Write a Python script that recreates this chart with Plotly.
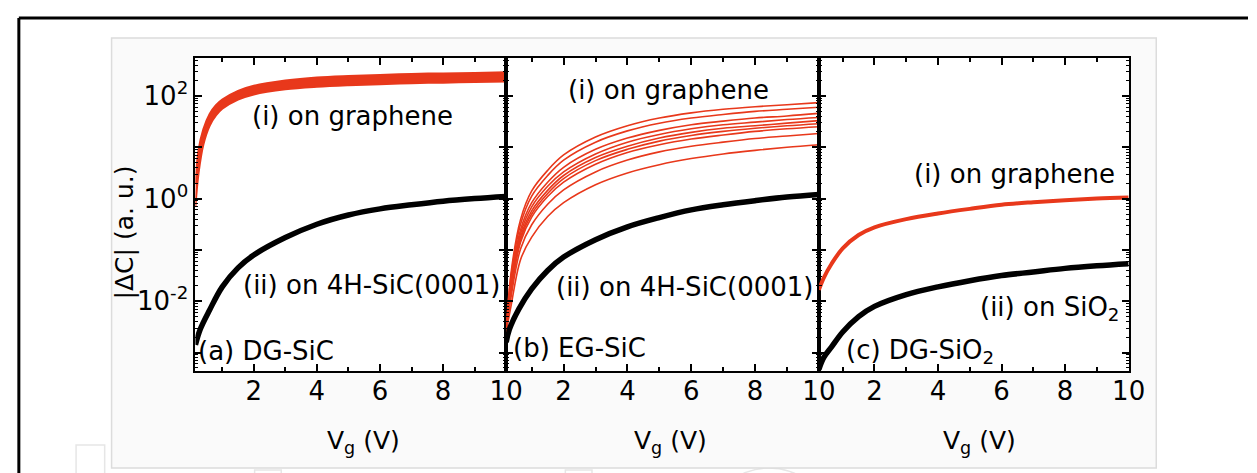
import plotly.graph_objects as go

W, H = 1257, 473

# ---------------- data (log10 of |ΔC|) ----------------
# Panel (a) DG-SiC
a_red_v = [0.15, 0.25, 0.4, 0.6, 0.8, 1.0, 1.5, 2, 3, 4, 5, 6, 7, 8, 9, 10]
a_red_low = [-0.15, 0.5, 1.05, 1.42, 1.62, 1.75, 1.93, 2.03, 2.13, 2.18, 2.21, 2.23, 2.25, 2.26, 2.27, 2.28]
a_red_high = [0.3, 0.95, 1.35, 1.65, 1.82, 1.93, 2.1, 2.2, 2.3, 2.36, 2.39, 2.41, 2.43, 2.44, 2.45, 2.46]
a_blk_v = [0.15, 0.3, 0.6, 1.0, 1.5, 2, 3, 4, 5, 6, 7, 8, 9, 10]
a_blk = [-2.85, -2.55, -2.17, -1.72, -1.35, -1.1, -0.76, -0.5, -0.32, -0.2, -0.12, -0.05, 0.0, 0.04]

# Panel (b) EG-SiC
b_red_v = [0.2, 0.35, 0.65, 1.0, 1.5, 2, 3, 4, 5, 6, 7, 8, 9, 10]
b_red_1 = [-2.6, -1.46, -0.41, 0.15, 0.55, 0.85, 1.2, 1.42, 1.57, 1.67, 1.74, 1.79, 1.83, 1.87]
b_red_2 = [-2.6, -1.53, -0.50, 0.05, 0.45, 0.75, 1.10, 1.32, 1.47, 1.57, 1.64, 1.70, 1.74, 1.78]
b_red_3 = [-2.6, -1.63, -0.61, -0.08, 0.32, 0.61, 0.96, 1.18, 1.33, 1.44, 1.51, 1.57, 1.61, 1.66]
b_red_4 = [-2.6, -1.68, -0.68, -0.16, 0.24, 0.52, 0.87, 1.10, 1.25, 1.36, 1.44, 1.49, 1.54, 1.58]
b_red_5 = [-2.6, -1.74, -0.75, -0.24, 0.16, 0.45, 0.80, 1.02, 1.18, 1.29, 1.37, 1.42, 1.47, 1.52]
b_red_6 = [-2.6, -1.78, -0.80, -0.30, 0.10, 0.39, 0.74, 0.96, 1.12, 1.23, 1.31, 1.37, 1.42, 1.46]
b_red_7 = [-2.6, -1.82, -0.85, -0.36, 0.04, 0.32, 0.67, 0.90, 1.05, 1.16, 1.24, 1.31, 1.36, 1.40]
b_red_8 = [-2.6, -1.93, -0.98, -0.51, -0.11, 0.17, 0.52, 0.75, 0.91, 1.02, 1.10, 1.17, 1.22, 1.27]
b_red_9 = [-2.6, -2.10, -1.19, -0.75, -0.35, -0.08, 0.27, 0.50, 0.66, 0.78, 0.87, 0.94, 1.00, 1.05]
b_blk_v = [0.2, 0.3, 0.6, 1.0, 1.5, 2, 3, 4, 5, 6, 7, 8, 9, 10]
b_blk = [-2.8, -2.55, -2.15, -1.76, -1.4, -1.14, -0.8, -0.55, -0.37, -0.22, -0.12, -0.04, 0.03, 0.08]

# Panel (c) DG-SiO2
c_red_v = [0.25, 0.4, 0.65, 1.0, 1.5, 2, 3, 4, 5, 6, 7, 8, 9, 10]
c_red = [-1.78, -1.55, -1.27, -0.97, -0.71, -0.56, -0.40, -0.29, -0.20, -0.12, -0.07, -0.03, 0.0, 0.02]
c_blk_v = [0.25, 0.4, 0.65, 1.0, 1.5, 2, 3, 4, 5, 6, 7, 8, 9, 10]
c_blk = [-3.33, -3.1, -2.89, -2.6, -2.3, -2.1, -1.87, -1.72, -1.6, -1.5, -1.43, -1.36, -1.31, -1.27]

x_ticks = [2, 4, 6, 8, 10]
x_ticks_minor = [1, 3, 5, 7, 9]
y_ticks = [1e-3, 1e-2, 1e-1, 1, 10, 100]
y_ticktext = ["", "10<sup>-2</sup>", "", "10<sup>0</sup>", "", "10<sup>2</sup>"]
y_minor = [m * 10.0 ** d for d in range(-4, 3) for m in range(2, 10)]

RED = "#e8381b"
BLACK = "#000000"
FONT = "DejaVu Sans"


def lin(v):
    return [10.0 ** t for t in v]


def px(x):
    return x / W


def py(y):
    return 1 - y / H


fig = go.Figure()

# panel a
fig.add_trace(go.Scatter(x=a_red_v, y=lin(a_red_low), mode="lines", line=dict(color=RED, width=2, shape="spline"),
                         xaxis="x", yaxis="y", showlegend=False))
fig.add_trace(go.Scatter(x=a_red_v, y=lin(a_red_high), mode="lines", line=dict(color=RED, width=2, shape="spline"),
                         fill="tonexty", fillcolor=RED, xaxis="x", yaxis="y", showlegend=False))
fig.add_trace(go.Scatter(x=a_blk_v, y=lin(a_blk), mode="lines", line=dict(color=BLACK, width=5.5, shape="spline"),
                         xaxis="x", yaxis="y", showlegend=False))

# panel b
for s in [b_red_1, b_red_2, b_red_3, b_red_4, b_red_5, b_red_6, b_red_7, b_red_8, b_red_9]:
    fig.add_trace(go.Scatter(x=b_red_v, y=lin(s), mode="lines", line=dict(color=RED, width=1.6, shape="spline"),
                             xaxis="x2", yaxis="y2", showlegend=False))
fig.add_trace(go.Scatter(x=b_blk_v, y=lin(b_blk), mode="lines", line=dict(color=BLACK, width=5.5, shape="spline"),
                         xaxis="x2", yaxis="y2", showlegend=False))

# panel c
fig.add_trace(go.Scatter(x=c_red_v, y=lin(c_red), mode="lines", line=dict(color=RED, width=4, shape="spline"),
                         xaxis="x3", yaxis="y3", showlegend=False))
fig.add_trace(go.Scatter(x=c_blk_v, y=lin(c_blk), mode="lines", line=dict(color=BLACK, width=5.5, shape="spline"),
                         xaxis="x3", yaxis="y3", showlegend=False))

panels = [(190, 505, 0.15), (505, 822, 0.2), (822, 1136, 0.25)]
ydom = [py(363), py(50)]

common_x = dict(showgrid=False, zeroline=False, showline=True, linecolor="black", linewidth=2,
                mirror="ticks", ticks="inside", ticklen=7, tickwidth=2, tickcolor="black",
                tickvals=x_ticks, ticktext=[str(t) for t in x_ticks], ticklabelstandoff=-4,
                tickfont=dict(family=FONT, size=26, color="black"),
                minor=dict(tickvals=x_ticks_minor, ticks="inside", ticklen=4, tickwidth=1.5, tickcolor="black"))
common_y = dict(type="log", range=[-3.36, 2.74], domain=ydom, showgrid=False, zeroline=False, showline=True,
                linecolor="black", linewidth=2, mirror="ticks", ticks="inside", ticklen=7, tickwidth=2,
                tickcolor="black", tickvals=y_ticks, ticktext=y_ticktext,
                tickfont=dict(family=FONT, size=26, color="black"),
                minor=dict(tickvals=y_minor, ticks="inside", ticklen=3, tickwidth=1, tickcolor="black"))

layout = dict(width=W, height=H, margin=dict(l=0, r=0, t=0, b=0), paper_bgcolor="white",
              plot_bgcolor="white", showlegend=False)
for i, (x0, x1, xmin) in enumerate(panels):
    k = "" if i == 0 else str(i + 1)
    xa = dict(common_x, domain=[px(x0), px(x1)], range=[xmin, 10], anchor="y" + k)
    ya = dict(common_y, anchor="x" + k)
    if i > 0:
        ya["showticklabels"] = False
    layout["xaxis" + k] = xa
    layout["yaxis" + k] = ya
fig.update_layout(**layout)

WM = dict(color="#e6e6e6", width=1.5)
shapes = [
    # faint watermark outlines at the bottom
    dict(type="rect", xref="paper", yref="paper", x0=px(69), x1=px(98), y0=py(480), y1=py(437), line=WM, layer="below"),
    dict(type="rect", xref="paper", yref="paper", x0=px(250), x1=px(277), y0=py(480), y1=py(462), line=WM, layer="below"),
    dict(type="rect", xref="paper", yref="paper", x0=px(565), x1=px(592), y0=py(480), y1=py(462), line=WM, layer="below"),
    dict(type="circle", xref="paper", yref="paper", x0=px(709), x1=px(834), y0=py(585), y1=py(460), line=WM, layer="below"),
    # light grey backing box
    dict(type="rect", xref="paper", yref="paper", x0=px(105), x1=px(1164), y0=py(460), y1=py(30),
         fillcolor="#fafafa", line=dict(color="#dcdcdc", width=1.5), layer="below"),
]
for x0, x1, _ in panels:
    shapes.append(dict(type="rect", xref="paper", yref="paper", x0=px(x0), x1=px(x1), y0=ydom[0], y1=ydom[1],
                       fillcolor="white", line=dict(width=0), layer="below"))
shapes += [
    dict(type="line", xref="paper", yref="paper", x0=px(11), x1=1, y0=py(10), y1=py(10),
         line=dict(color="black", width=3)),
    dict(type="line", xref="paper", yref="paper", x0=px(11), x1=px(11), y0=py(10), y1=0,
         line=dict(color="black", width=3)),
]
fig.update_layout(shapes=shapes)

ann = []


def add(text, x, y, xa="center", ya="middle", size=26, angle=0):
    ann.append(dict(text=text, x=px(x), y=py(y), xref="paper", yref="paper", xanchor=xa, yanchor=ya,
                    showarrow=False, font=dict(family=FONT, size=size, color="black"), textangle=angle))


add("(i) on graphene", 349, 108)
add("(ii) on 4H-SiC(0001)", 368, 277)
add("(a) DG-SiC", 191, 343, xa="left")
add("(i) on graphene", 670, 82)
add("(ii) on 4H-SiC(0001)", 686, 279)
add("(b) EG-SiC", 510, 340, xa="left")
add("(i) on graphene", 1020, 166)
add("(ii) on SiO<sub>2</sub>", 1128, 300, xa="right")
add("(c) DG-SiO<sub>2</sub>", 847, 343, xa="left")
for cx in [360, 672, 985]:
    add("V<sub>g</sub> (V)", cx, 434, size=25)
add("|ΔC| (a. u.)", 118, 224, size=25, angle=-90)
fig.update_layout(annotations=ann)

fig.write_html("out.html")
